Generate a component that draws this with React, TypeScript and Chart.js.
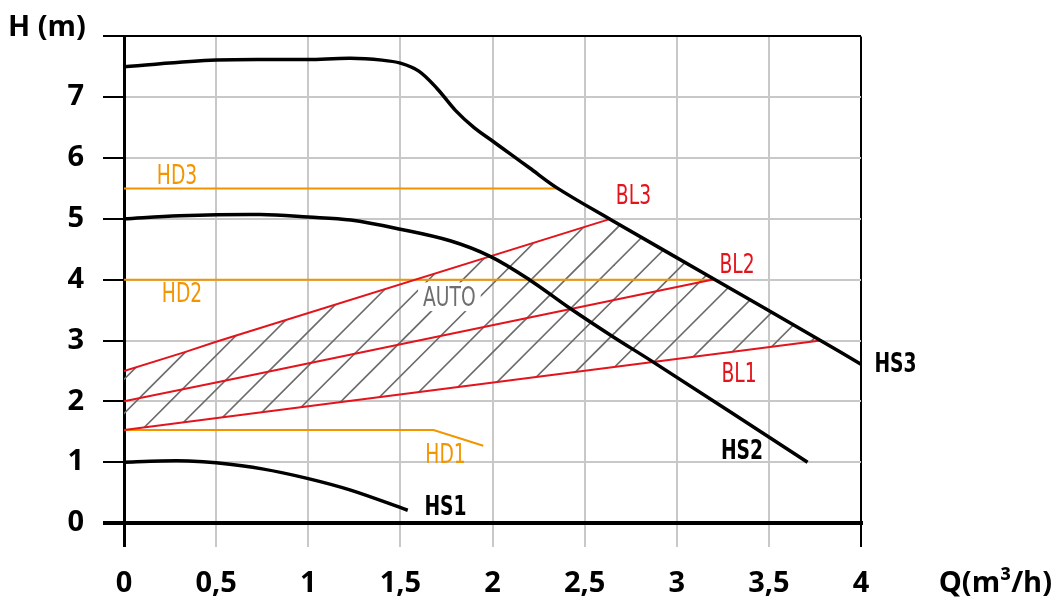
import React, { useEffect, useRef } from 'react';
import { Chart, registerables } from 'chart.js';

Chart.register(...registerables);

// Axis ticks
const qTicks = [0, 0.5, 1, 1.5, 2, 2.5, 3, 3.5, 4];
const qTickLabels = ['0', '0,5', '1', '1,5', '2', '2,5', '3', '3,5', '4'];
const hTickLabels = ['0', '1', '2', '3', '4', '5', '6', '7', ''];

// Pump curves at maximum speed settings (Q in m³/h, H in m)
const hs3Q = [0, 0.5, 1.0, 1.23, 1.4, 1.5, 1.6, 1.7, 1.8, 1.9, 2.0, 2.1, 2.2, 2.35, 2.64, 3.18, 3.78, 4.0];
const hs3H = [7.5, 7.61, 7.62, 7.64, 7.61, 7.56, 7.43, 7.14, 6.78, 6.5, 6.28, 6.06, 5.84, 5.51, 4.99, 4.05, 3.0, 2.61];

const hs2Q = [0, 0.3, 0.74, 1.0, 1.23, 1.5, 1.77, 1.99, 2.2, 2.42, 2.66, 2.86, 3.71];
const hs2H = [5.0, 5.05, 5.07, 5.03, 4.98, 4.83, 4.64, 4.38, 4.0, 3.53, 3.05, 2.67, 1.0];

const hs1Q = [0, 0.2, 0.35, 0.5, 0.75, 1.0, 1.23, 1.54];
const hs1H = [1.0, 1.02, 1.02, 0.99, 0.89, 0.73, 0.54, 0.21];

// Proportional pressure lines
const bl3Q = [0, 0.33, 0.5, 2.64];
const bl3H = [2.5, 2.81, 2.98, 5.0];
const bl2Q = [0, 0.5, 3.21];
const bl2H = [2.0, 2.31, 4.01];
const bl1Q = [0, 1.0, 3.78];
const bl1H = [1.53, 1.92, 3.0];

// Constant pressure lines
const hd3Q = [0, 2.35];
const hd3H = [5.5, 5.5];
const hd2Q = [0, 3.2];
const hd2H = [4.0, 4.0];
const hd1Q = [0, 1.68, 1.95];
const hd1H = [1.53, 1.53, 1.27];

// Upper edge of the AUTO working range (BL3 then HS3 down to BL1's end)
const autoTopQ = [0, 2.64, 3.18, 3.78];
const autoTopH = [2.5, 4.99, 4.05, 3.0];

const RED = '#e3141c';
const ORANGE = '#f29500';
const GRID = '#c8c8c8';
const HATCH = '#6b6b6b';

const thinFont = '"Liberation Sans Narrow", "DejaVu Sans Condensed", "Roboto Condensed", sans-serif';
const tickFont = '"Open Sans", "DejaVu Sans", sans-serif';

type CurveLabel = { text: string; q: number; h: number; color: string; bold?: boolean; knockout?: boolean };

const curveLabels: CurveLabel[] = [
  { text: 'HD3', q: 0.288, h: 5.72, color: ORANGE },
  { text: 'HD2', q: 0.315, h: 3.79, color: ORANGE },
  { text: 'HD1', q: 1.745, h: 1.14, color: ORANGE },
  { text: 'BL3', q: 2.765, h: 5.4, color: RED },
  { text: 'BL2', q: 3.327, h: 4.27, color: RED },
  { text: 'BL1', q: 3.338, h: 2.47, color: RED },
  { text: 'AUTO', q: 1.766, h: 3.72, color: '#6e6e6e', knockout: true },
  { text: 'HS1', q: 1.745, h: 0.29, color: '#000', bold: true },
  { text: 'HS2', q: 3.354, h: 1.21, color: '#000', bold: true },
  { text: 'HS3', q: 4.187, h: 2.64, color: '#000', bold: true },
];

const pts = (qs: number[], hs: number[]) => qs.map((q, i) => ({ x: q, y: hs[i] }));

function makeHatch(): CanvasPattern | string {
  const size = 205; // six hatch periods of ~34.17 px
  const period = size / 6;
  const off = 25.0;
  const c = document.createElement('canvas');
  c.width = size;
  c.height = size;
  const g = c.getContext('2d');
  if (!g) return 'rgba(0,0,0,0)';
  g.strokeStyle = HATCH;
  g.lineWidth = 1.6;
  for (let k = -1; k <= 13; k++) {
    const s = off + k * period;
    g.beginPath();
    g.moveTo(s + 10, -10);
    g.lineTo(s - size - 10, size + 10);
    g.stroke();
  }
  const p = g.createPattern(c, 'repeat');
  return p || 'rgba(0,0,0,0)';
}

const labelPlugin = {
  id: 'curveLabels',
  afterDatasetsDraw(chart: any) {
    const { ctx, scales, chartArea } = chart;
    const x = scales.x;
    const y = scales.y;
    ctx.save();
    for (const l of curveLabels) {
      const size = 26;
      const squeeze = 0.8;
      ctx.font = `${l.bold ? '700 ' : ''}${size}px ${thinFont}`;
      const px = x.getPixelForValue(l.q);
      const py = y.getPixelForValue(l.h);
      const cap = size * 0.72;
      const w = ctx.measureText(l.text).width * squeeze;
      if (l.knockout) {
        ctx.fillStyle = '#fff';
        ctx.fillRect(px - w / 2 - 5, py - cap / 2 - 5, w + 10, cap + 10);
      }
      ctx.save();
      ctx.translate(px, py + cap / 2);
      ctx.scale(squeeze, 1);
      ctx.fillStyle = l.color;
      ctx.textAlign = 'center';
      ctx.textBaseline = 'alphabetic';
      ctx.fillText(l.text, 0, 0);
      ctx.restore();
    }
    ctx.font = `700 29px ${tickFont}`;
    ctx.fillStyle = '#000';
    ctx.textBaseline = 'alphabetic';
    ctx.textAlign = 'left';
    ctx.fillText('H (m)', 8, chartArea.top);
    ctx.textAlign = 'right';
    ctx.fillText('Q(m³/h)', 1052, chartArea.bottom + 69);
    ctx.restore();
  },
};

export default function App() {
  const ref = useRef<HTMLCanvasElement | null>(null);

  useEffect(() => {
    if (!ref.current) return;
    const hatch = makeHatch();
    const line = (data: { x: number; y: number }[], color: string, width: number, smooth = false) => ({
      data,
      borderColor: color,
      borderWidth: width,
      pointRadius: 0,
      fill: false,
      tension: smooth ? 0.35 : 0,
    });

    const chart = new Chart(ref.current, {
      type: 'line',
      data: {
        datasets: [
          line(pts(hs3Q, hs3H), '#000', 3.5, true),
          line(pts(hs2Q, hs2H), '#000', 3.5, true),
          line(pts(hs1Q, hs1H), '#000', 3.5, true),
          line(pts(bl3Q, bl3H), RED, 2),
          line(pts(bl2Q, bl2H), RED, 2),
          line(pts(bl1Q, bl1H), RED, 2),
          line(pts(hd3Q, hd3H), ORANGE, 2),
          line(pts(hd2Q, hd2H), ORANGE, 2),
          line(pts(hd1Q, hd1H), ORANGE, 2),
          {
            data: pts(autoTopQ, autoTopH),
            borderWidth: 0,
            borderColor: 'rgba(0,0,0,0)',
            pointRadius: 0,
            tension: 0,
            fill: 5,
            backgroundColor: hatch as any,
          },
        ],
      },
      options: {
        responsive: false,
        animation: false,
        devicePixelRatio: 1,
        events: [],
        layout: { padding: { left: 0, top: 33, right: 193, bottom: 0 } },
        plugins: {
          legend: { display: false },
          tooltip: { enabled: false },
        },
        scales: {
          x: {
            type: 'linear',
            min: 0,
            max: 4,
            afterFit: (s: any) => {
              s.height = 77;
            },
            afterBuildTicks: (s: any) => {
              s.ticks = qTicks.map((v) => ({ value: v }));
            },
            ticks: {
              autoSkip: false,
              maxRotation: 0,
              padding: 19,
              color: '#000',
              font: { family: tickFont, size: 29, weight: 'bold' },
              callback: (v: any) => qTickLabels[qTicks.indexOf(Number(v))] ?? '',
            },
            grid: {
              color: (c: any) => (c.tick && (c.tick.value === 0 || c.tick.value === 4) ? '#000' : GRID),
              lineWidth: (c: any) => (c.tick && c.tick.value === 0 ? 3 : 2),
              tickColor: (c: any) => (c.tick && (c.tick.value === 0 || c.tick.value === 4) ? '#000' : GRID),
              tickWidth: (c: any) => (c.tick && c.tick.value === 0 ? 3 : 2),
              tickLength: 24,
            },
            border: { color: '#000', width: 4 },
          },
          y: {
            type: 'linear',
            min: 0,
            max: 8,
            afterFit: (s: any) => {
              s.width = 124;
            },
            ticks: {
              stepSize: 1,
              padding: 19,
              color: '#000',
              font: { family: tickFont, size: 29, weight: 'bold' },
              callback: (v: any) => hTickLabels[Number(v)] ?? '',
            },
            grid: {
              color: (c: any) => (c.tick && (c.tick.value === 0 || c.tick.value === 8) ? '#000' : GRID),
              lineWidth: (c: any) => (c.tick && c.tick.value === 0 ? 4 : 2),
              tickColor: '#000',
              tickWidth: (c: any) => (c.tick && c.tick.value === 0 ? 4 : 2),
              tickLength: 21,
            },
            border: { color: '#000', width: 3 },
          },
        },
      },
      plugins: [labelPlugin],
    });
    return () => chart.destroy();
  }, []);

  return (
    <div style={{ position: 'absolute', left: 0, top: 0, width: 1054, height: 600, background: '#fff' }}>
      <canvas ref={ref} width={1054} height={600} style={{ display: 'block' }} />
    </div>
  );
}
